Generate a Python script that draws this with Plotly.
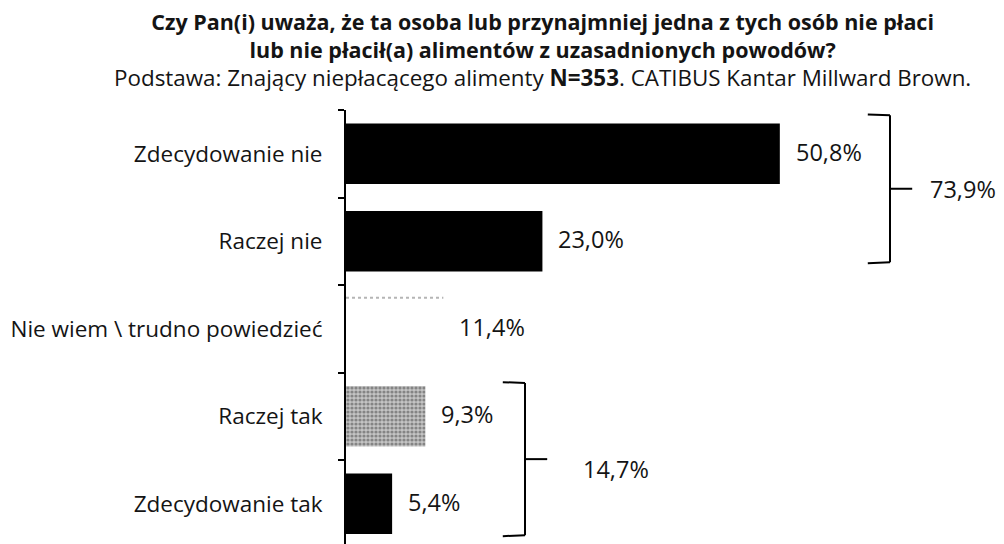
import plotly.graph_objects as go

# ---- data ----
categories = [
    "Zdecydowanie nie",
    "Raczej nie",
    "Nie wiem \\ trudno powiedzieć",
    "Raczej tak",
    "Zdecydowanie tak",
]
values = [50.8, 23.0, 11.4, 9.3, 5.4]
group_members = [[0, 1], [3, 4]]
group_totals = [73.9, 14.7]

title_line1 = "Czy Pan(i) uważa, że ta osoba lub przynajmniej jedna z tych osób nie płaci"
title_line2 = "lub nie płacił(a) alimentów z uzasadnionych powodów?"
subtitle = "Podstawa: Znający niepłacącego alimenty <b>N=353</b>. CATIBUS Kantar Millward Brown."

# ---- styles ----
FONT = "Open Sans"
TXT = "#141414"
bar_colors = ["#000000", "#000000", "#ffffff", "#c4c4c4", "#000000"]
bar_patterns = ["", "", "", ".", ""]
BAR_W = 0.69


def fmt(v):
    return f"{v:.1f}".replace(".", ",") + "%"


fig = go.Figure(
    go.Bar(
        x=values,
        y=categories,
        orientation="h",
        width=BAR_W,
        marker=dict(
            color=bar_colors,
            line=dict(width=0),
            pattern=dict(shape=bar_patterns, fgcolor="#555555", bgcolor="#c8c8c8",
                         size=4, solidity=0.5),
        ),
        hoverinfo="skip",
    )
)

annotations = []
shapes = []

# value labels
for c, v in zip(categories, values):
    annotations.append(dict(x=v, y=c, xref="x", yref="y", text=fmt(v), showarrow=False,
                            xanchor="left", xshift=14, yshift=2,
                            font=dict(family=FONT, size=23.5, color=TXT)))

# faint top edge of the white bar
iw = categories.index("Nie wiem \\ trudno powiedzieć")
shapes.append(dict(type="line", xref="x", yref="y", x0=0, x1=values[iw],
                   y0=iw - BAR_W / 2 - 0.01, y1=iw - BAR_W / 2 - 0.01,
                   line=dict(color="#b5b5b5", width=2, dash="dot")))

# brackets
bracket_offsets = [12.9, 11.66]
bracket_spans = [(-0.44, 0.24), (-0.38, 0.36)]
label_dx = [4.5, 6.6]
label_dy = [0.0, 0.11]
for members, total, off, (dt, db), ldx, ldy in zip(group_members, group_totals, bracket_offsets,
                                                   bracket_spans, label_dx, label_dy):
    xv = max(values[i] for i in members) + off
    yt = members[0] + dt
    yb = members[-1] + db
    ym = (yt + yb) / 2
    lc = dict(color="#000000", width=2)
    shapes += [
        dict(type="line", xref="x", yref="y", x0=xv, x1=xv, y0=yt, y1=yb, line=lc),
        dict(type="line", xref="x", yref="y", x0=xv - 2.6, x1=xv, y0=yt - 0.01, y1=yt, line=lc),
        dict(type="line", xref="x", yref="y", x0=xv - 2.6, x1=xv, y0=yb + 0.01, y1=yb, line=lc),
        dict(type="line", xref="x", yref="y", x0=xv, x1=xv + 2.6, y0=ym, y1=ym, line=lc),
    ]
    annotations.append(dict(x=xv + ldx, y=ym + ldy, xref="x", yref="y", text=fmt(total),
                            showarrow=False, xanchor="left",
                            font=dict(family=FONT, size=23.5, color=TXT)))

# title block (one text, three lines)
title_text = ("<b>" + title_line1 + "</b><br><b>" + title_line2 + "</b><br>"
              + "<span style='font-size:22.4px'>" + subtitle + "</span>")
annotations.append(dict(x=0.299, y=1.138, xref="paper", yref="paper", text=title_text,
                        showarrow=False, xanchor="center", yanchor="middle", align="center",
                        font=dict(family=FONT, size=21.5, color=TXT)))

fig.update_layout(
    width=1004,
    height=544,
    margin=dict(l=338, r=8, t=102, b=8),
    paper_bgcolor="white",
    plot_bgcolor="white",
    showlegend=False,
    annotations=annotations,
    shapes=shapes,
    xaxis=dict(range=[0, 77.05], visible=False),
    yaxis=dict(
        type="category",
        categoryorder="array",
        categoryarray=categories,
        range=[4.46, -0.5],
        automargin=False,
        showline=True,
        linecolor="black",
        linewidth=2,
        ticks="outside",
        ticklen=6,
        tickwidth=2,
        tickcolor="black",
        tickson="boundaries",
        showgrid=False,
        zeroline=False,
        ticklabelstandoff=17,
        tickfont=dict(family=FONT, size=22.5, color=TXT),
    ),
)

fig.write_html("out.html")
